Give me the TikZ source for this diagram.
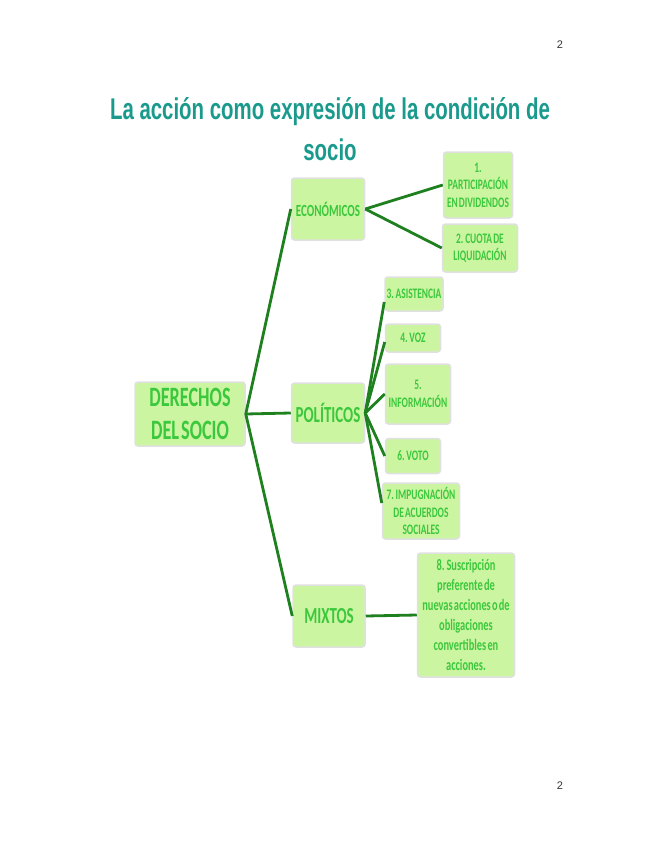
\documentclass[tikz,border=0pt]{standalone}
\usepackage{fontspec}
\newfontfamily\boxf[FakeStretch=0.65,WordSpace=0.5]{Carlito}
\newfontfamily\titf[FakeStretch=0.68]{Liberation Sans}
\setmainfont{Liberation Sans}
\definecolor{boxfill}{HTML}{CCF5A2}
\definecolor{boxtext}{HTML}{3CC83C}
\definecolor{linkc}{HTML}{1E801E}
\definecolor{titc}{HTML}{1A9A8C}
\tikzset{
  box/.style={rectangle, rounded corners=3pt, fill=boxfill, draw=black!12, line width=1.5pt,
    text=boxtext, align=center, inner sep=1pt},
  link/.style={draw=linkc, line width=2.8pt},
  fbig/.style={font=\boxf\bfseries\fontsize{28}{33}\selectfont},
  fmid/.style={font=\boxf\bfseries\fontsize{23}{26}\selectfont},
  feco/.style={font=\boxf\bfseries\fontsize{17}{19}\selectfont},
  fsmall/.style={font=\boxf\bfseries\fontsize{14.5}{17.5}\selectfont},
  fsus/.style={font=\boxf\bfseries\fontsize{16}{20}\selectfont},
}
\begin{document}
\begin{tikzpicture}[x=1pt,y=1pt]
\useasboundingbox (0,0) rectangle (655,-848);
% page numbers
\node[font=\fontsize{11}{13}\selectfont, text=black!80] (pn1) at (560,-45) {2};
\node[font=\fontsize{11}{13}\selectfont, text=black!80] (pn2) at (560,-786) {2};
% title
\node[font=\titf\bfseries\fontsize{30}{38}\selectfont, text=titc, anchor=base] (t1) at (330,-120) {La acción como expresión de la condición de};
\node[font=\titf\bfseries\fontsize{30}{38}\selectfont, text=titc, anchor=base] (t2) at (330,-160) {socio};
% nodes
\node[box, fbig, minimum width=110pt, minimum height=64pt] (der) at (190,-414) {DERECHOS\\DEL SOCIO};
\node[box, feco, minimum width=73pt, minimum height=62pt] (eco) at (328,-209) {ECONÓMICOS};
\node[box, fmid, minimum width=73pt, minimum height=60pt] (pol) at (328,-413) {POLÍTICOS};
\node[box, fmid, minimum width=72pt, minimum height=62pt] (mix) at (329,-616) {MIXTOS};
\node[box, fsmall, minimum width=69pt, minimum height=66pt] (a1) at (478,-185) {1.\\PARTICIPACIÓN\\EN DIVIDENDOS};
\node[box, fsmall, minimum width=75pt, minimum height=48pt] (a2) at (480,-248) {2. CUOTA DE\\LIQUIDACIÓN};
\node[box, fsmall, minimum width=58pt, minimum height=34pt] (a3) at (414,-294) {3. ASISTENCIA};
\node[box, fsmall, minimum width=55pt, minimum height=28pt] (a4) at (413,-338) {4. VOZ};
\node[box, fsmall, minimum width=65pt, minimum height=60pt] (a5) at (418,-394) {5.\\INFORMACIÓN};
\node[box, fsmall, minimum width=55pt, minimum height=35pt] (a6) at (413,-456) {6. VOTO};
\node[box, fsmall, minimum width=77pt, minimum height=56pt] (a7) at (421,-511) {7. IMPUGNACIÓN\\DE ACUERDOS\\SOCIALES};
\node[box, fsus, minimum width=97pt, minimum height=124pt] (a8) at (466,-615) {8. Suscripción\\preferente de\\nuevas acciones o de\\obligaciones\\convertibles en\\acciones.};
% connectors
\draw[link] (der.east) -- (eco.west);
\draw[link] (der.east) -- (pol.west);
\draw[link] (der.east) -- (mix.west);
\draw[link] (eco.east) -- (a1.west);
\draw[link] (eco.east) -- (a2.west);
\draw[link] (pol.east) -- ([yshift=-8pt]a3.west);
\draw[link] (pol.east) -- ([yshift=-4pt]a4.west);
\draw[link] (pol.east) -- (a5.west);
\draw[link] (pol.east) -- (a6.west);
\draw[link] (pol.east) -- ([yshift=8pt]a7.west);
\draw[link] (mix.east) -- (a8.west);
\end{tikzpicture}
\end{document}
